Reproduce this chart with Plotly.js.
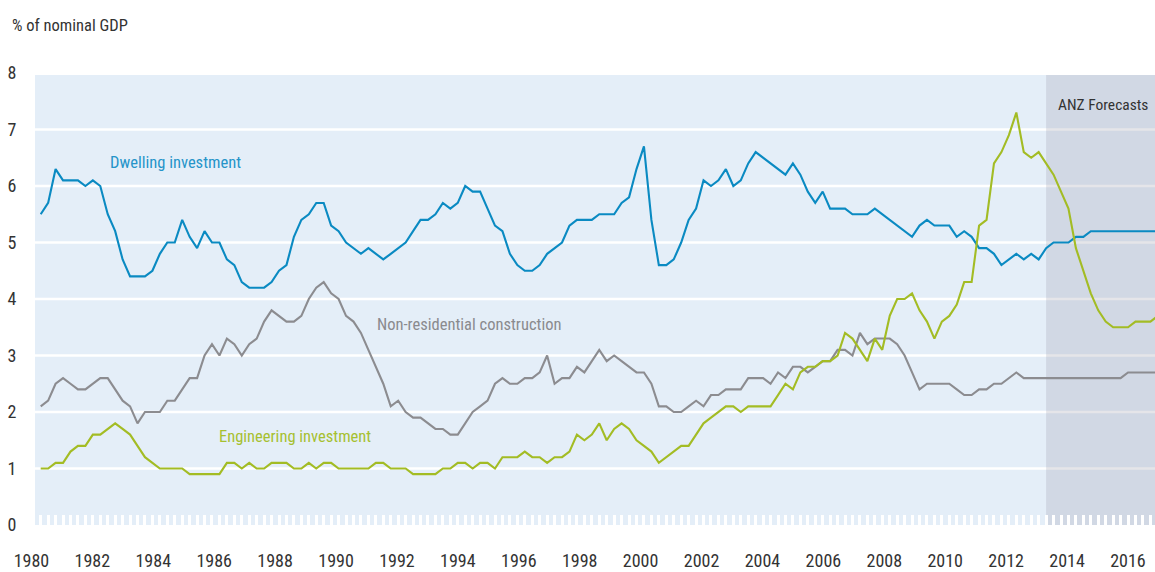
<!DOCTYPE html>
<html>
<head>
<meta charset="utf-8">
<script src="https://cdn.plot.ly/plotly-3.0.1.min.js"></script>
<style>
  html, body { margin: 0; padding: 0; background: #ffffff; }
  #chart { width: 1155px; height: 572px; }
</style>
</head>
<body>
<div id="chart"></div>
<script>
// ---------------- DATA (quarterly, % of nominal GDP, from Mar-1980) ----------------
const firstYear = 1980;          // first quarter = Mar 1980
const forecastStart = 2013.75;   // first forecast quarter

const dwelling = [
  5.5,5.7,6.3,6.1,6.1, 6.1,6.0,6.1,6.0,5.5, 5.2,4.7,4.4,4.4,4.4, 4.5,4.8,5.0,5.0,5.4, 5.1,4.9,5.2,5.0,5.0,
  4.7,4.6,4.3,4.2,4.2, 4.2,4.3,4.5,4.6,5.1, 5.4,5.5,5.7,5.7,5.3, 5.2,5.0,4.9,4.8,4.9, 4.8,4.7,4.8,4.9,5.0,
  5.2,5.4,5.4,5.5,5.7, 5.6,5.7,6.0,5.9,5.9, 5.6,5.3,5.2,4.8,4.6, 4.5,4.5,4.6,4.8,4.9, 5.0,5.3,5.4,5.4,5.4,
  5.5,5.5,5.5,5.7,5.8, 6.3,6.7,5.4,4.6,4.6, 4.7,5.0,5.4,5.6,6.1, 6.0,6.1,6.3,6.0,6.1, 6.4,6.6,6.5,6.4,6.3,
  6.2,6.4,6.2,5.9,5.7, 5.9,5.6,5.6,5.6,5.5, 5.5,5.5,5.6,5.5,5.4, 5.3,5.2,5.1,5.3,5.4, 5.3,5.3,5.3,5.1,5.2,
  5.1,4.9,4.9,4.8,4.6, 4.7,4.8,4.7,4.8,4.7, 4.9,5.0,5.0,5.0,5.1, 5.1,5.2,5.2,5.2,5.2, 5.2,5.2,5.2,5.2,5.2, 5.2
];

const nonResidential = [
  2.1,2.2,2.5,2.6,2.5, 2.4,2.4,2.5,2.6,2.6, 2.4,2.2,2.1,1.8,2.0, 2.0,2.0,2.2,2.2,2.4, 2.6,2.6,3.0,3.2,3.0,
  3.3,3.2,3.0,3.2,3.3, 3.6,3.8,3.7,3.6,3.6, 3.7,4.0,4.2,4.3,4.1, 4.0,3.7,3.6,3.4,3.1, 2.8,2.5,2.1,2.2,2.0,
  1.9,1.9,1.8,1.7,1.7, 1.6,1.6,1.8,2.0,2.1, 2.2,2.5,2.6,2.5,2.5, 2.6,2.6,2.7,3.0,2.5, 2.6,2.6,2.8,2.7,2.9,
  3.1,2.9,3.0,2.9,2.8, 2.7,2.7,2.5,2.1,2.1, 2.0,2.0,2.1,2.2,2.1, 2.3,2.3,2.4,2.4,2.4, 2.6,2.6,2.6,2.5,2.7,
  2.6,2.8,2.8,2.7,2.8, 2.9,2.9,3.1,3.1,3.0, 3.4,3.2,3.3,3.3,3.3, 3.2,3.0,2.7,2.4,2.5, 2.5,2.5,2.5,2.4,2.3,
  2.3,2.4,2.4,2.5,2.5, 2.6,2.7,2.6,2.6,2.6, 2.6,2.6,2.6,2.6,2.6, 2.6,2.6,2.6,2.6,2.6, 2.6,2.7,2.7,2.7,2.7, 2.7
];

const engineering = [
  1.0,1.0,1.1,1.1,1.3, 1.4,1.4,1.6,1.6,1.7, 1.8,1.7,1.6,1.4,1.2, 1.1,1.0,1.0,1.0,1.0, 0.9,0.9,0.9,0.9,0.9,
  1.1,1.1,1.0,1.1,1.0, 1.0,1.1,1.1,1.1,1.0, 1.0,1.1,1.0,1.1,1.1, 1.0,1.0,1.0,1.0,1.0, 1.1,1.1,1.0,1.0,1.0,
  0.9,0.9,0.9,0.9,1.0, 1.0,1.1,1.1,1.0,1.1, 1.1,1.0,1.2,1.2,1.2, 1.3,1.2,1.2,1.1,1.2, 1.2,1.3,1.6,1.5,1.6,
  1.8,1.5,1.7,1.8,1.7, 1.5,1.4,1.3,1.1,1.2, 1.3,1.4,1.4,1.6,1.8, 1.9,2.0,2.1,2.1,2.0, 2.1,2.1,2.1,2.1,2.3,
  2.5,2.4,2.7,2.8,2.8, 2.9,2.9,3.0,3.4,3.3, 3.1,2.9,3.3,3.1,3.7, 4.0,4.0,4.1,3.8,3.6, 3.3,3.6,3.7,3.9,4.3,
  4.3,5.3,5.4,6.4,6.6, 6.9,7.3,6.6,6.5,6.6, 6.4,6.2,5.9,5.6,4.9, 4.5,4.1,3.8,3.6,3.5, 3.5,3.5,3.6,3.6,3.6, 3.7
];

const yTickValues = [0,1,2,3,4,5,6,7,8];
const gridValues  = [1,2,3,4,5,6,7];
const labelYears  = [1980,1982,1984,1986,1988,1990,1992,1994,1996,1998,2000,2002,2004,2006,2008,2010,2012,2014,2016];

const seriesNames = ['Dwelling investment', 'Non-residential construction', 'Engineering investment'];
const forecastLabel = 'ANZ Forecasts';
const yUnitLabel = '% of nominal GDP';

// ---------------- LAYOUT / STYLE ----------------
const FONT = '"Liberation Sans Narrow", "Arial Narrow", "Roboto Condensed", "DejaVu Sans Condensed", sans-serif';
const colBlue = '#0A8AC2', colGrey = '#8C8C90', colGreen = '#A3BC24';
const bgBlue = '#E4EEF8';

// quarterly positions
const quarters = dwelling.map((_, i) => firstYear + i / 4);

// printed year labels in the source sit on a slightly stretched scale vs. the quarter dates
const labelOrigin = 1979.688, labelScale = 1.0225;
const labelPos = labelYears.map(y => labelOrigin + (y - firstYear) * labelScale);

const xRange = [1979.473, 2017.405];
const yRange = [0, 8];
const bgTop = 7.965;
const bgLeftPaper = 10 / 1130;

const mkTrace = (y, name, color) => ({
  type: 'scatter', mode: 'lines', x: quarters, y: y, name: name,
  line: { color: color, width: 2.1 }, hoverinfo: 'x+y+name'
});

const traces = [
  mkTrace(dwelling, seriesNames[0], colBlue),
  mkTrace(nonResidential, seriesNames[1], colGrey),
  mkTrace(engineering, seriesNames[2], colGreen)
];

const shapes = [
  { type: 'rect', layer: 'below', xref: 'paper', yref: 'y', x0: bgLeftPaper, x1: 1, y0: 0, y1: bgTop,
    fillcolor: bgBlue, line: { width: 0 } }
];
gridValues.forEach(v => shapes.push({
  type: 'line', layer: 'below', xref: 'paper', yref: 'y', x0: bgLeftPaper, x1: 1, y0: v, y1: v,
  line: { color: '#ffffff', width: 2.3 }
}));
shapes.push({
  type: 'rect', layer: 'between', xref: 'x', yref: 'y', x0: forecastStart, x1: xRange[1], y0: 0, y1: bgTop,
  fillcolor: 'rgba(150,152,168,0.25)', line: { width: 0 }
});

const annotations = [
  { text: seriesNames[0], x: 1982.26, y: 6.41, xref: 'x', yref: 'y', xanchor: 'left', yanchor: 'middle',
    showarrow: false, font: { family: FONT, size: 16.5, color: '#2594C9' } },
  { text: seriesNames[1], x: 1991.22, y: 3.54, xref: 'x', yref: 'y', xanchor: 'left', yanchor: 'middle',
    showarrow: false, font: { family: FONT, size: 16.5, color: '#8A8A8E' } },
  { text: seriesNames[2], x: 1985.92, y: 1.575, xref: 'x', yref: 'y', xanchor: 'left', yanchor: 'middle',
    showarrow: false, font: { family: FONT, size: 16.5, color: '#A6C030' } },
  { text: forecastLabel, x: 2014.08, y: 7.43, xref: 'x', yref: 'y', xanchor: 'left', yanchor: 'middle',
    showarrow: false, font: { family: FONT, size: 15.5, color: '#333333' } },
  { text: yUnitLabel, x: -0.0133, y: 1.106, xref: 'paper', yref: 'paper', xanchor: 'left', yanchor: 'middle',
    showarrow: false, font: { family: FONT, size: 16.5, color: '#333333' } }
];

const layout = {
  width: 1155, height: 572,
  margin: { l: 25, r: 0, t: 73, b: 47, pad: 0 },
  paper_bgcolor: '#ffffff', plot_bgcolor: '#ffffff',
  showlegend: false,
  font: { family: FONT, size: 18, color: '#333333' },
  xaxis: {
    type: 'linear', range: xRange, showgrid: false, zeroline: false, showline: false,
    tickmode: 'array', tickvals: labelPos, ticktext: labelYears.map(String),
    ticks: 'outside', ticklen: 19, tickcolor: 'rgba(0,0,0,0)',
    tickfont: { family: FONT, size: 18, color: '#333333' },
    minor: { tickmode: 'array', tickvals: quarters, ticks: 'inside', ticklen: 10.5, tickwidth: 3,
             tickcolor: '#ffffff', showgrid: false },
    fixedrange: true
  },
  yaxis: {
    range: yRange, showgrid: false, zeroline: false, showline: false,
    tickmode: 'array', tickvals: yTickValues, ticktext: yTickValues.map(String),
    ticks: 'outside', ticklen: 4, tickcolor: 'rgba(0,0,0,0)',
    tickfont: { family: FONT, size: 18, color: '#333333' },
    fixedrange: true
  },
  shapes: shapes,
  annotations: annotations
};

Plotly.newPlot('chart', traces, layout, { displayModeBar: false, staticPlot: true });
</script>
</body>
</html>
